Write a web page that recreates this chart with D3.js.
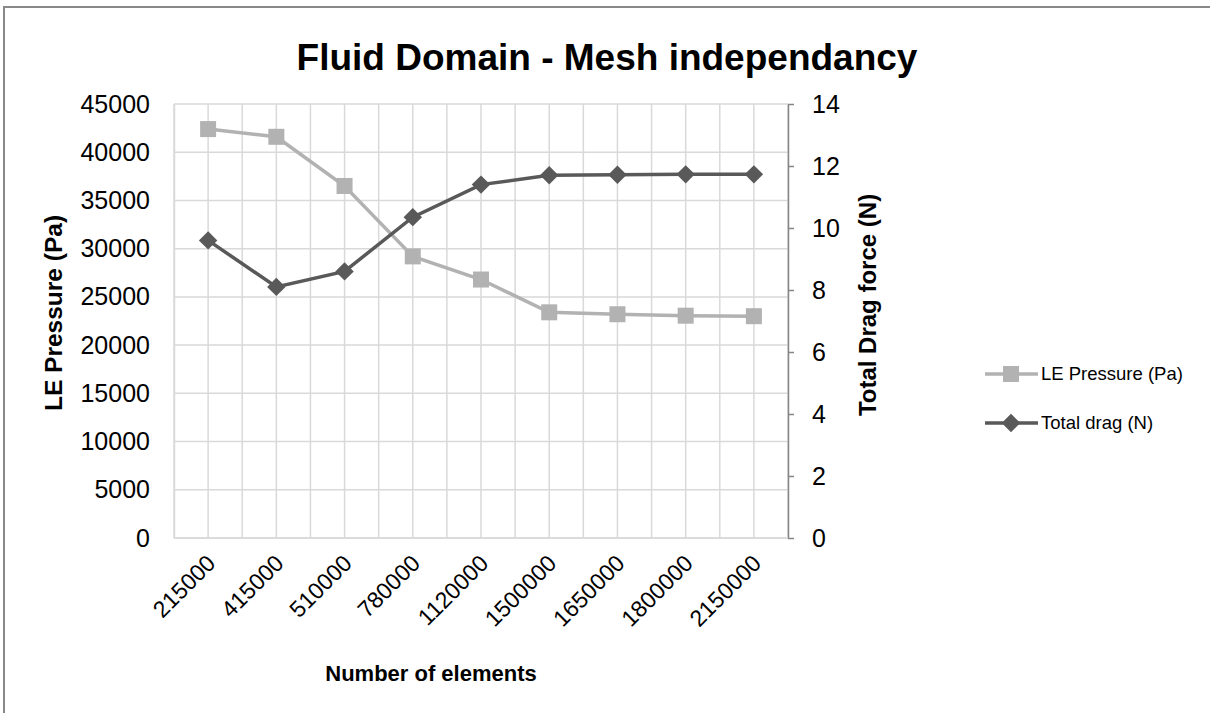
<!doctype html>
<html>
<head>
    <style>
        body { margin: 0; background: #fff; }
        svg { font-family: "Liberation Sans", Arial, sans-serif; }
    </style>
    <script src="https://d3js.org/d3.v7.min.js"></script>
</head>
<body>
    <svg width="1210" height="713"></svg>
    <script>
        // data
        var elements = ["215000", "415000", "510000", "780000", "1120000", "1500000", "1650000", "1800000", "2150000"];
        var pressure = [42400, 41600, 36500, 29200, 26800, 23400, 23200, 23050, 23000];
        var drag = [9.6, 8.1, 8.6, 10.35, 11.4, 11.7, 11.72, 11.73, 11.73];
        var pressureTicks = [0, 5000, 10000, 15000, 20000, 25000, 30000, 35000, 40000, 45000];
        var dragTicks = [0, 2, 4, 6, 8, 10, 12, 14];

        var svg = d3.select("svg");
        var pLeft = 174, pRight = 788, pTop = 104, pBottom = 538;
        var font = "Liberation Sans, Arial, sans-serif";

        // outer frame (only top and left edges visible)
        svg.append("rect")
           .attr("x", 4).attr("y", 7)
           .attr("width", 1300).attr("height", 800)
           .attr("fill", "none")
           .attr("stroke", "#898989")
           .attr("stroke-width", 2);

        var x = d3.scaleBand().domain(elements).range([pLeft, pRight]);
        var yL = d3.scaleLinear().domain([0, 45000]).range([pBottom, pTop]);
        var yR = d3.scaleLinear().domain([0, 14]).range([pBottom, pTop]);

        // grid
        var grid = svg.append("g").attr("stroke", "#d9d9d9").attr("stroke-width", 1.5);
        pressureTicks.forEach(function(t) {
            grid.append("line").attr("x1", pLeft).attr("x2", pRight)
                .attr("y1", yL(t)).attr("y2", yL(t));
        });
        var halfs = [];
        elements.forEach(function(e) {
            halfs.push(x(e));
            halfs.push(x(e) + x.bandwidth() / 2);
        });
        halfs.push(pRight);
        halfs.forEach(function(v) {
            grid.append("line").attr("x1", v).attr("x2", v)
                .attr("y1", pTop).attr("y2", pBottom);
        });

        // left axis
        var gl = svg.append("g")
           .attr("transform", "translate(" + pLeft + ",0)")
           .call(d3.axisLeft(yL).tickValues(pressureTicks).tickFormat(d3.format("d"))
                   .tickSize(0).tickPadding(24));
        gl.select(".domain").attr("stroke", "#d9d9d9").attr("stroke-width", 1.5);
        gl.selectAll("text").attr("font-size", "25px").attr("fill", "#000")
          .attr("font-family", font);

        // right axis
        var gr = svg.append("g")
           .attr("transform", "translate(" + pRight + ",0)")
           .call(d3.axisRight(yR).tickValues(dragTicks).tickSize(6).tickSizeOuter(0).tickPadding(18));
        gr.select(".domain").attr("stroke", "#868686").attr("stroke-width", 1.5);
        gr.selectAll(".tick line").attr("stroke", "#868686").attr("stroke-width", 1.5);
        gr.selectAll("text").attr("font-size", "25px").attr("fill", "#000")
          .attr("font-family", font);

        // x axis line and labels
        svg.append("line").attr("x1", pLeft).attr("x2", pRight)
           .attr("y1", pBottom).attr("y2", pBottom)
           .attr("stroke", "#d9d9d9").attr("stroke-width", 1.5);
        svg.append("g").selectAll("text")
           .data(elements).enter().append("text")
           .attr("transform", function(d) {
               return "translate(" + (x(d) + x.bandwidth() / 2 + 3) + "," + (pBottom + 21) + ") rotate(-45)";
           })
           .attr("text-anchor", "end")
           .attr("dy", "0.35em")
           .attr("font-size", "23px")
           .text(function(d) { return d; });

        // titles
        svg.append("text").attr("x", 607).attr("y", 70)
           .attr("text-anchor", "middle").attr("font-size", "37px").attr("font-weight", "bold")
           .text("Fluid Domain - Mesh independancy");
        svg.append("text").attr("x", 431).attr("y", 681)
           .attr("text-anchor", "middle").attr("font-size", "22px").attr("font-weight", "bold")
           .text("Number of elements");
        svg.append("text")
           .attr("transform", "translate(62,313) rotate(-90)")
           .attr("text-anchor", "middle").attr("font-size", "24.5px").attr("font-weight", "bold")
           .text("LE Pressure (Pa)");
        svg.append("text")
           .attr("transform", "translate(876,305) rotate(-90)")
           .attr("text-anchor", "middle").attr("font-size", "24px").attr("font-weight", "bold")
           .text("Total Drag force (N)");

        var cx = function(d, i) { return x(elements[i]) + x.bandwidth() / 2; };

        // pressure series
        svg.append("path").datum(pressure)
           .attr("fill", "none").attr("stroke", "#b2b2b2").attr("stroke-width", 3.5)
           .attr("d", d3.line().x(cx).y(function(d) { return yL(d); }));
        svg.append("g").selectAll("rect").data(pressure).enter().append("rect")
           .attr("x", function(d, i) { return cx(d, i) - 8; })
           .attr("y", function(d) { return yL(d) - 8; })
           .attr("width", 16).attr("height", 16)
           .attr("fill", "#b2b2b2");

        // drag series
        var diamond = d3.symbol().type(d3.symbolSquare).size(170);
        svg.append("path").datum(drag)
           .attr("fill", "none").attr("stroke", "#595959").attr("stroke-width", 3.5)
           .attr("d", d3.line().x(cx).y(function(d) { return yR(d); }));
        svg.append("g").selectAll("path").data(drag).enter().append("path")
           .attr("d", diamond)
           .attr("transform", function(d, i) { return "translate(" + cx(d, i) + "," + yR(d) + ") rotate(45)"; })
           .attr("fill", "#595959");

        // legend
        var legend = [
            { name: "LE Pressure (Pa)", color: "#b2b2b2", shape: "square", y: 374 },
            { name: "Total drag (N)", color: "#595959", shape: "diamond", y: 423 }
        ];
        legend.forEach(function(l) {
            var g = svg.append("g").attr("transform", "translate(0," + l.y + ")");
            g.append("line").attr("x1", 985).attr("x2", 1038).attr("y1", 0).attr("y2", 0)
             .attr("stroke", l.color).attr("stroke-width", 3.5);
            if (l.shape === "square") {
                g.append("rect").attr("x", 1003).attr("y", -8).attr("width", 16).attr("height", 16)
                 .attr("fill", l.color);
            } else {
                g.append("path").attr("d", diamond)
                 .attr("transform", "translate(1011,0) rotate(45)").attr("fill", l.color);
            }
            g.append("text").attr("x", 1041).attr("y", 0).attr("dy", "0.35em")
             .attr("font-size", "18.5px").text(l.name);
        });
    </script>
</body>
</html>
